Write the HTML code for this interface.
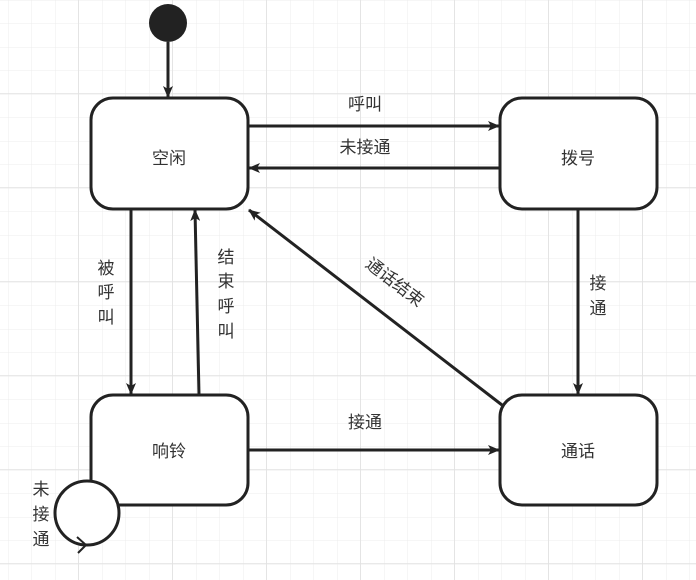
<!DOCTYPE html>
<html><head><meta charset="utf-8"><style>
html,body{margin:0;padding:0;background:#fff}
svg{display:block}
text{font-family:"Liberation Sans","Noto Sans CJK SC",sans-serif;font-size:17px;fill:#333}
</style></head><body>
<svg width="696" height="580" viewBox="0 0 696 580" xmlns="http://www.w3.org/2000/svg">
<defs>
<pattern id="g" x="8" y="0" width="23.5" height="23.5" patternUnits="userSpaceOnUse">
<path d="M0 0V23.5M0 0H23.5" stroke="#ececec" stroke-width="1" fill="none"/>
</pattern>
<pattern id="G" x="78" y="93" width="94" height="94" patternUnits="userSpaceOnUse">
<path d="M0 0V94M0 0H94" stroke="#e2e2e2" stroke-width="1.5" fill="none"/>
</pattern>
<marker id="a" markerWidth="12" markerHeight="10" refX="11" refY="5" orient="auto" markerUnits="userSpaceOnUse">
<path d="M0 0L12 5L0 10L3 5Z" fill="#222"/>
</marker>
</defs>
<rect width="696" height="580" fill="url(#g)"/>
<rect width="696" height="580" fill="url(#G)"/>
<g stroke="#222" stroke-width="3" fill="none">
<line x1="168" y1="42" x2="168" y2="97" marker-end="url(#a)"/>
<line x1="248" y1="126" x2="499" y2="126" marker-end="url(#a)"/>
<line x1="500" y1="168" x2="249" y2="168" marker-end="url(#a)"/>
<line x1="131" y1="209" x2="131" y2="394" marker-end="url(#a)"/>
<line x1="199" y1="395" x2="195" y2="210" marker-end="url(#a)"/>
<line x1="578" y1="209" x2="578" y2="394" marker-end="url(#a)"/>
<line x1="248" y1="450" x2="499" y2="450" marker-end="url(#a)"/>
<line x1="502" y1="405" x2="249" y2="210" marker-end="url(#a)"/>
<rect x="91" y="98" width="157" height="111" rx="22" fill="#fff"/>
<rect x="500" y="98" width="157" height="111" rx="22" fill="#fff"/>
<rect x="91" y="395" width="157" height="110" rx="22" fill="#fff"/>
<rect x="500" y="395" width="157" height="110" rx="22" fill="#fff"/>
<circle cx="87" cy="513" r="32" fill="#fff"/>
<path d="M77 537L86 545L78 553" stroke-width="2"/>
</g>
<circle cx="168" cy="23" r="19" fill="#222"/>
<text x="169" y="164" text-anchor="middle">空闲</text>
<text x="578" y="164" text-anchor="middle">拨号</text>
<text x="169" y="457" text-anchor="middle">响铃</text>
<text x="578" y="457" text-anchor="middle">通话</text>
<text x="365" y="110" text-anchor="middle">呼叫</text>
<text x="365" y="153" text-anchor="middle">未接通</text>
<text x="365" y="428" text-anchor="middle">接通</text>
<text x="106" y="274" text-anchor="middle">被</text>
<text x="106" y="298" text-anchor="middle">呼</text>
<text x="106" y="323" text-anchor="middle">叫</text>
<text x="226" y="263" text-anchor="middle">结</text>
<text x="226" y="287" text-anchor="middle">束</text>
<text x="226" y="312" text-anchor="middle">呼</text>
<text x="226" y="337" text-anchor="middle">叫</text>
<text x="598" y="289" text-anchor="middle">接</text>
<text x="598" y="314" text-anchor="middle">通</text>
<text x="41" y="495" text-anchor="middle">未</text>
<text x="41" y="520" text-anchor="middle">接</text>
<text x="41" y="545" text-anchor="middle">通</text>
<text x="395" y="288" text-anchor="middle" transform="rotate(37.7 395 282)">通话结束</text>
</svg>
</body></html>
